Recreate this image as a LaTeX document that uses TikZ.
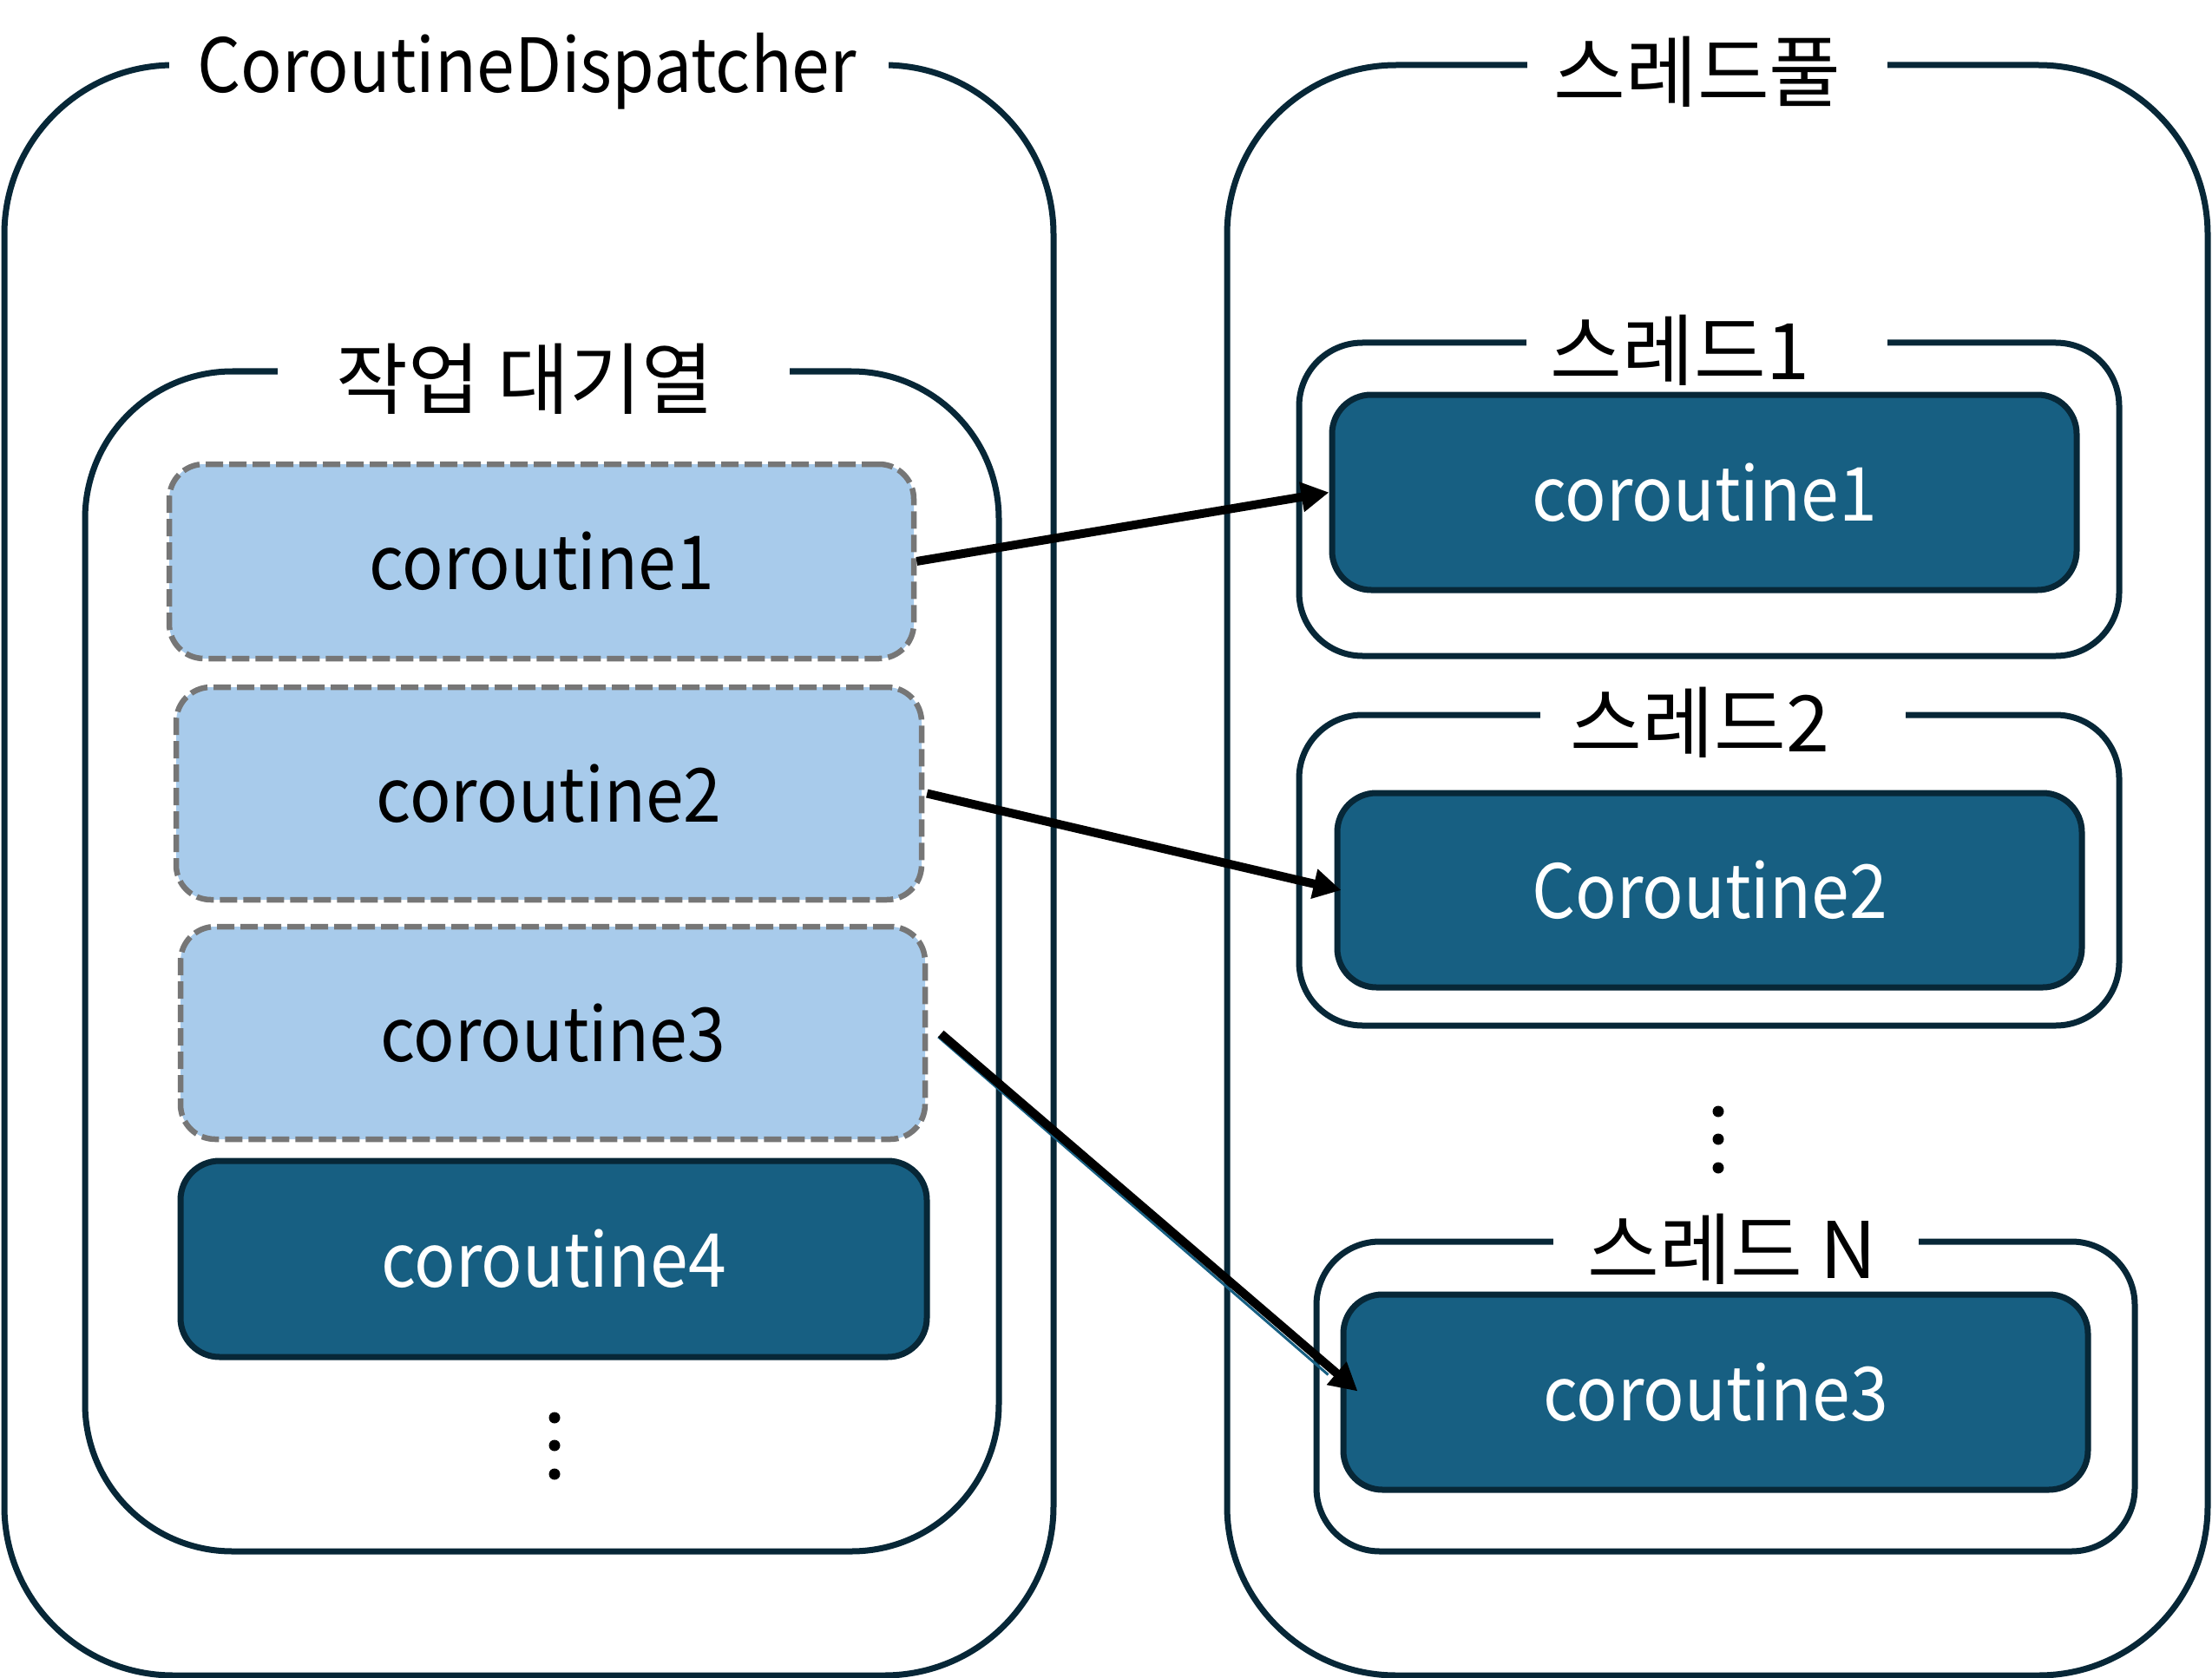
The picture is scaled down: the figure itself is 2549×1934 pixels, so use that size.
\documentclass[tikz,border=0pt]{standalone}
\usepackage{fontspec}
\setmainfont{Noto Sans CJK KR}[FakeStretch=0.915]
\newfontfamily\kor{Noto Sans CJK KR}
\usetikzlibrary{arrows.meta}
\definecolor{navy}{HTML}{072737}
\definecolor{dblue}{HTML}{175F82}
\definecolor{lblue}{HTML}{A8CBEB}
\definecolor{dgray}{HTML}{767676}
\tikzset{
  frame/.style={draw=navy, line width=7pt, rectangle, inner sep=0pt},
  qbox/.style={draw=dgray, fill=lblue, line width=6.5pt, dash pattern=on 20pt off 7pt, rectangle, rounded corners=40pt, inner sep=0pt, minimum width=858pt, font=\fontsize{86}{100}\selectfont},
  dbox/.style={draw=navy, fill=dblue, line width=7pt, rectangle, rounded corners=45pt, inner sep=0pt, minimum width=858pt, minimum height=225pt, text=white, font=\fontsize{86}{100}\selectfont},
  gapbox/.style={fill=white, inner sep=0pt, minimum height=30pt},
  lbl/.style={inner sep=0pt, anchor=base, font=\fontsize{86}{100}\selectfont},
  klbl/.style={inner sep=0pt, anchor=base, font=\kor\fontsize{90}{100}\selectfont},
  arr/.style={line width=10pt, -{Triangle[length=32pt,width=33pt]}},
  dotc/.style={fill=black}
}
\begin{document}
\begin{tikzpicture}[x=1pt,y=-1pt]
\useasboundingbox (0,0) rectangle (2549,1934);
% outer frames
\node[frame, rounded corners=195pt, minimum width=1209pt, minimum height=1856pt] (disp) at (609.5,1003) {};
\node[frame, rounded corners=195pt, minimum width=1130pt, minimum height=1856pt] (pool) at (1979,1003) {};
\node[frame, rounded corners=170pt, minimum width=1053pt, minimum height=1360pt] (queue) at (624.5,1108) {};
% thread frames
\node[frame, rounded corners=73pt, minimum width=945pt, minimum height=361pt] (th1) at (1969.5,575.5) {};
\node[frame, rounded corners=73pt, minimum width=945pt, minimum height=358pt] (th2) at (1969.5,1003) {};
\node[frame, rounded corners=73pt, minimum width=943pt, minimum height=357pt] (thn) at (1988.5,1609.5) {};
% label gaps
\node[gapbox, minimum width=829pt] (g0) at (609.5,75) {};
\node[gapbox, minimum width=415pt] (gp) at (1967.5,75) {};
\node[gapbox, minimum width=590pt] (gq) at (615,428) {};
\node[gapbox, minimum width=416pt] (g1) at (1967,395) {};
\node[gapbox, minimum width=421pt] (g2) at (1985.5,824) {};
\node[gapbox, minimum width=421pt] (gn) at (2000.5,1431) {};
% labels
\node[lbl] (l0) at (607,107) {CoroutineDispatcher};
\node[klbl] (lp) at (1956,117) {스레드풀};
\node[klbl] (lq) at (605,470) {작업 대기열};
\node[klbl] (l1) at (1936,437) {스레드1};
\node[klbl] (l2) at (1959,866) {스레드2};
\node[klbl] (ln) at (1996,1473) {스레드 N};
% queue boxes
\node[qbox, minimum height=224pt] (c1) at (624,647) {coroutine1};
\node[qbox, minimum width=859pt, minimum height=245pt] (c2) at (632.5,914.5) {coroutine2};
\node[qbox, minimum height=245pt] (c3) at (637,1190.5) {coroutine3};
\node[dbox, minimum width=860pt, minimum height=226pt] (c4) at (638,1451) {coroutine4};
% thread boxes
\node[dbox] (t1) at (1964,567.5) {coroutine1};
\node[dbox, minimum height=224pt] (t2) at (1970,1026) {Coroutine2};
\node[dbox] (tn) at (1977,1604.5) {coroutine3};
% dots
\fill[dotc] (639,1634) circle (6.5pt) (639,1666) circle (6.5pt) (639,1699) circle (6.5pt);
\fill[dotc] (1980,1281) circle (6.5pt) (1980,1313) circle (6.5pt) (1980,1346) circle (6.5pt);
% arrows
\draw[arr] (c1.east) -- (t1.west);
\draw[arr] ([xshift=3pt]c2.east) -- ([xshift=8pt]t2.west);
\draw[dblue, line width=3pt] ([xshift=12pt,yshift=-4.5pt]c3.east) -- ([xshift=-14pt,yshift=20pt]tn.west);
\draw[arr] ([xshift=15pt,yshift=-1pt]c3.east) -- ([xshift=20pt,yshift=1pt]tn.west);
\end{tikzpicture}
\end{document}
